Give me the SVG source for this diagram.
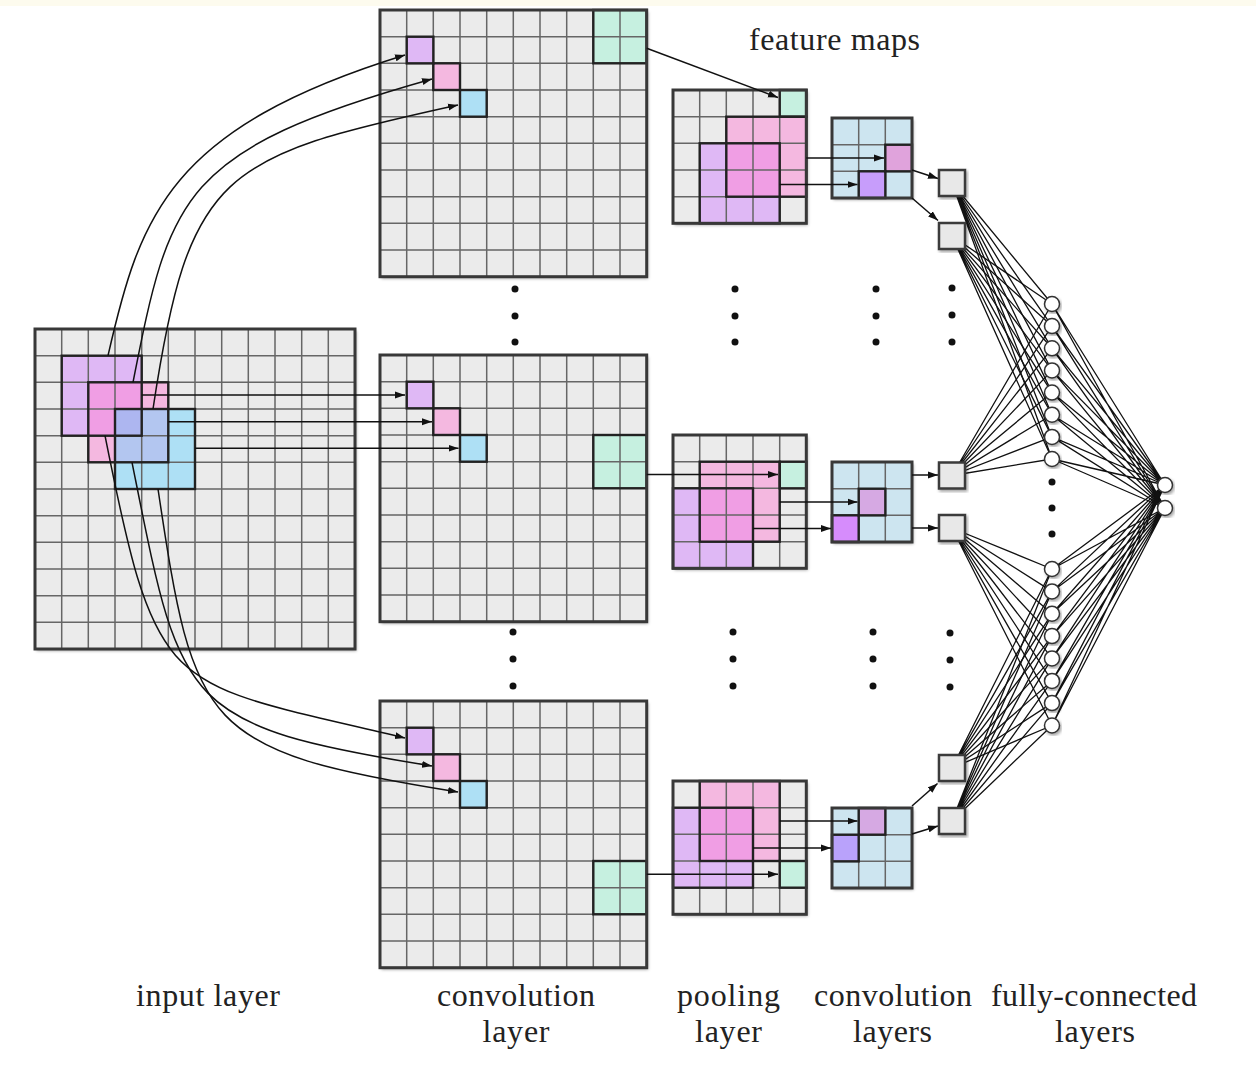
<svg xmlns="http://www.w3.org/2000/svg" xmlns:xlink="http://www.w3.org/1999/xlink" width="1256" height="1074" viewBox="0 0 1256 1074">
<style>
.bg{fill:#ebebeb;filter:url(#sh)}
.gl{fill:none;stroke:#666;stroke-width:1.5}
.ob{fill:none;stroke:#383838;stroke-width:3}
.hb{fill:none;stroke:#222;stroke-width:2.4}
.pu{fill:#dfb8f5}.pk{fill:#f4b8e0}.mg{fill:#f09ee4}.bl{fill:#aee0f5}.bp{fill:#b3c6f0}.bq{fill:#adb6f0}.tl{fill:#c6f0e0}.sc{fill:#cde5f0}
.ar{fill:none;stroke:#111;stroke-width:1.5;marker-end:url(#ah)}
.fc{fill:none;stroke:#111;stroke-width:1.3}
.sq{fill:#e8e8e8;stroke:#3a3a3a;stroke-width:2.5;filter:url(#sh)}
.nd{fill:#fff;stroke:#333;stroke-width:1.5;filter:url(#sh)}
.dot{fill:#111}
.lbl{font-family:"Liberation Serif","Times New Roman",serif;font-size:32px;fill:#222;text-anchor:middle}
</style>
<defs>
<filter id="sh" x="-10%" y="-10%" width="125%" height="125%"><feDropShadow dx="1.5" dy="2" stdDeviation="1.5" flood-color="#000" flood-opacity="0.35"/></filter>
<marker id="ah" markerUnits="userSpaceOnUse" markerWidth="11" markerHeight="8" refX="10" refY="4" orient="auto"><path d="M0,0.5 L10,4 L0,7.5 z" fill="#111"/></marker>
<path id="l10" class="gl" d="M26.7 0V266.7M53.3 0V266.7M80 0V266.7M106.7 0V266.7M133.3 0V266.7M160 0V266.7M186.7 0V266.7M213.3 0V266.7M240 0V266.7M0 26.7H266.7M0 53.3H266.7M0 80H266.7M0 106.7H266.7M0 133.3H266.7M0 160H266.7M0 186.7H266.7M0 213.3H266.7M0 240H266.7"/>
<path id="l12" class="gl" d="M26.7 0V320M53.3 0V320M80 0V320M106.7 0V320M133.3 0V320M160 0V320M186.7 0V320M213.3 0V320M240 0V320M266.7 0V320M293.3 0V320M0 26.7H320M0 53.3H320M0 80H320M0 106.7H320M0 133.3H320M0 160H320M0 186.7H320M0 213.3H320M0 240H320M0 266.7H320M0 293.3H320"/>
<path id="l5" class="gl" d="M26.7 0V133.3M53.3 0V133.3M80 0V133.3M106.7 0V133.3M0 26.7H133.3M0 53.3H133.3M0 80H133.3M0 106.7H133.3"/>
<path id="l3" class="gl" d="M26.7 0V80M53.3 0V80M0 26.7H80M0 53.3H80"/>
</defs>
<rect x="0" y="0" width="1256" height="1074" fill="#fff"/>
<rect x="0" y="0" width="1256" height="6" fill="#fdfbee"/>

<g id="input-layer">
<rect class="bg" x="35" y="329" width="320" height="320"/>
<rect class="pu" x="61.7" y="355.7" width="26.7" height="80"/><rect class="pu" x="88.3" y="355.7" width="53.3" height="26.7"/>
<rect class="mg" x="88.3" y="382.3" width="53.3" height="26.7"/><rect class="mg" x="88.3" y="409" width="26.7" height="26.7"/>
<rect class="pk" x="141.7" y="382.3" width="26.7" height="26.7"/><rect class="pk" x="88.3" y="435.7" width="26.7" height="26.7"/>
<rect class="bq" x="115" y="409" width="26.7" height="26.7"/>
<rect class="bp" x="141.7" y="409" width="26.7" height="53.3"/><rect class="bp" x="115" y="435.7" width="26.7" height="26.7"/>
<rect class="bl" x="168.3" y="409" width="26.7" height="53.3"/><rect class="bl" x="115" y="462.3" width="80" height="26.7"/>
<use xlink:href="#l12" x="35" y="329"/>
<rect class="hb" x="61.7" y="355.7" width="80" height="80"/>
<rect class="hb" x="88.3" y="382.3" width="80" height="80"/>
<rect class="hb" x="115" y="409" width="80" height="80"/>
<rect class="ob" x="35" y="329" width="320" height="320"/>
</g>

<g id="conv-top">
<rect class="bg" x="380" y="10" width="266.7" height="266.7"/>
<rect class="pu" x="406.7" y="36.7" width="26.7" height="26.7"/>
<rect class="pk" x="433.3" y="63.3" width="26.7" height="26.7"/>
<rect class="bl" x="460" y="90" width="26.7" height="26.7"/>
<rect class="tl" x="593.3" y="10" width="53.3" height="53.3"/>
<use xlink:href="#l10" x="380" y="10"/>
<rect class="hb" x="406.7" y="36.7" width="26.7" height="26.7"/>
<rect class="hb" x="433.3" y="63.3" width="26.7" height="26.7"/>
<rect class="hb" x="460" y="90" width="26.7" height="26.7"/>
<rect class="hb" x="593.3" y="10" width="53.3" height="53.3"/>
<rect class="ob" x="380" y="10" width="266.7" height="266.7"/>
</g>

<g id="conv-mid">
<rect class="bg" x="380" y="355" width="266.7" height="266.7"/>
<rect class="pu" x="406.7" y="381.7" width="26.7" height="26.7"/>
<rect class="pk" x="433.3" y="408.3" width="26.7" height="26.7"/>
<rect class="bl" x="460" y="435" width="26.7" height="26.7"/>
<rect class="tl" x="593.3" y="435" width="53.3" height="53.3"/>
<use xlink:href="#l10" x="380" y="355"/>
<rect class="hb" x="406.7" y="381.7" width="26.7" height="26.7"/>
<rect class="hb" x="433.3" y="408.3" width="26.7" height="26.7"/>
<rect class="hb" x="460" y="435" width="26.7" height="26.7"/>
<rect class="hb" x="593.3" y="435" width="53.3" height="53.3"/>
<rect class="ob" x="380" y="355" width="266.7" height="266.7"/>
</g>

<g id="conv-bot">
<rect class="bg" x="380" y="701" width="266.7" height="266.7"/>
<rect class="pu" x="406.7" y="727.7" width="26.7" height="26.7"/>
<rect class="pk" x="433.3" y="754.3" width="26.7" height="26.7"/>
<rect class="bl" x="460" y="781" width="26.7" height="26.7"/>
<rect class="tl" x="593.3" y="861" width="53.3" height="53.3"/>
<use xlink:href="#l10" x="380" y="701"/>
<rect class="hb" x="406.7" y="727.7" width="26.7" height="26.7"/>
<rect class="hb" x="433.3" y="754.3" width="26.7" height="26.7"/>
<rect class="hb" x="460" y="781" width="26.7" height="26.7"/>
<rect class="hb" x="593.3" y="861" width="53.3" height="53.3"/>
<rect class="ob" x="380" y="701" width="266.7" height="266.7"/>
</g>

<g id="pool-top">
<rect class="bg" x="673" y="90" width="133.3" height="133.3"/>
<rect class="tl" x="779.7" y="90" width="26.7" height="26.7"/>
<rect class="pk" x="726.3" y="116.7" width="80" height="80"/>
<rect class="pu" x="699.7" y="143.3" width="80" height="80"/>
<rect class="mg" x="726.3" y="143.3" width="53.3" height="53.3"/>
<use xlink:href="#l5" x="673" y="90"/>
<rect class="hb" x="779.7" y="90" width="26.7" height="26.7"/>
<rect class="hb" x="726.3" y="116.7" width="80" height="80"/>
<rect class="hb" x="699.7" y="143.3" width="80" height="80"/>
<rect class="ob" x="673" y="90" width="133.3" height="133.3"/>
</g>

<g id="pool-mid">
<rect class="bg" x="673" y="435" width="133.3" height="133.3"/>
<rect class="tl" x="779.7" y="461.7" width="26.7" height="26.7"/>
<rect class="pk" x="699.7" y="461.7" width="80" height="80"/>
<rect class="pu" x="673" y="488.3" width="80" height="80"/>
<rect class="mg" x="699.7" y="488.3" width="53.3" height="53.3"/>
<use xlink:href="#l5" x="673" y="435"/>
<rect class="hb" x="779.7" y="461.7" width="26.7" height="26.7"/>
<rect class="hb" x="699.7" y="461.7" width="80" height="80"/>
<rect class="hb" x="673" y="488.3" width="80" height="80"/>
<rect class="ob" x="673" y="435" width="133.3" height="133.3"/>
</g>

<g id="pool-bot">
<rect class="bg" x="673" y="781" width="133.3" height="133.3"/>
<rect class="tl" x="779.7" y="861" width="26.7" height="26.7"/>
<rect class="pk" x="699.7" y="781" width="80" height="80"/>
<rect class="pu" x="673" y="807.7" width="80" height="80"/>
<rect class="mg" x="699.7" y="807.7" width="53.3" height="53.3"/>
<use xlink:href="#l5" x="673" y="781"/>
<rect class="hb" x="779.7" y="861" width="26.7" height="26.7"/>
<rect class="hb" x="699.7" y="781" width="80" height="80"/>
<rect class="hb" x="673" y="807.7" width="80" height="80"/>
<rect class="ob" x="673" y="781" width="133.3" height="133.3"/>
</g>

<g id="conv2-top">
<rect class="bg" x="832" y="118" width="80" height="80" style="fill:#cde5f0"/>
<rect x="885.3" y="144.7" width="26.7" height="26.7" fill="#e0a3dc"/>
<rect x="858.7" y="171.3" width="26.7" height="26.7" fill="#c79dfb"/>
<use xlink:href="#l3" x="832" y="118"/>
<rect class="hb" x="885.3" y="144.7" width="26.7" height="26.7"/>
<rect class="hb" x="858.7" y="171.3" width="26.7" height="26.7"/>
<rect class="ob" x="832" y="118" width="80" height="80"/>
</g>

<g id="conv2-mid">
<rect class="bg" x="832" y="462" width="80" height="80" style="fill:#cde5f0"/>
<rect x="858.7" y="488.7" width="26.7" height="26.7" fill="#d6a9e3"/>
<rect x="832" y="515.3" width="26.7" height="26.7" fill="#d68cfc"/>
<use xlink:href="#l3" x="832" y="462"/>
<rect class="hb" x="858.7" y="488.7" width="26.7" height="26.7"/>
<rect class="hb" x="832" y="515.3" width="26.7" height="26.7"/>
<rect class="ob" x="832" y="462" width="80" height="80"/>
</g>

<g id="conv2-bot">
<rect class="bg" x="832" y="808" width="80" height="80" style="fill:#cde5f0"/>
<rect x="858.7" y="808" width="26.7" height="26.7" fill="#d6a9e3"/>
<rect x="832" y="834.7" width="26.7" height="26.7" fill="#b9a2fb"/>
<use xlink:href="#l3" x="832" y="808"/>
<rect class="hb" x="858.7" y="808" width="26.7" height="26.7"/>
<rect class="hb" x="832" y="834.7" width="26.7" height="26.7"/>
<rect class="ob" x="832" y="808" width="80" height="80"/>
</g>

<g id="ellipses">
<circle class="dot" cx="515" cy="289" r="3.5"/><circle class="dot" cx="515" cy="316" r="3.5"/><circle class="dot" cx="515" cy="342" r="3.5"/>
<circle class="dot" cx="735" cy="289" r="3.5"/><circle class="dot" cx="735" cy="316" r="3.5"/><circle class="dot" cx="735" cy="342" r="3.5"/>
<circle class="dot" cx="876" cy="289" r="3.5"/><circle class="dot" cx="876" cy="316" r="3.5"/><circle class="dot" cx="876" cy="342" r="3.5"/>
<circle class="dot" cx="952" cy="288" r="3.5"/><circle class="dot" cx="952" cy="315" r="3.5"/><circle class="dot" cx="952" cy="342" r="3.5"/>
<circle class="dot" cx="513" cy="632" r="3.5"/><circle class="dot" cx="513" cy="659" r="3.5"/><circle class="dot" cx="513" cy="686" r="3.5"/>
<circle class="dot" cx="733" cy="632" r="3.5"/><circle class="dot" cx="733" cy="659" r="3.5"/><circle class="dot" cx="733" cy="686" r="3.5"/>
<circle class="dot" cx="873" cy="632" r="3.5"/><circle class="dot" cx="873" cy="659" r="3.5"/><circle class="dot" cx="873" cy="686" r="3.5"/>
<circle class="dot" cx="950" cy="633" r="3.5"/><circle class="dot" cx="950" cy="660" r="3.5"/><circle class="dot" cx="950" cy="687" r="3.5"/>
<circle class="dot" cx="1052" cy="482" r="3.5"/><circle class="dot" cx="1052" cy="508" r="3.5"/><circle class="dot" cx="1052" cy="534" r="3.5"/>
</g>

<g id="connectors">
<path class="ar" d="M108 355.7C140 215 169 128 405 55"/>
<path class="ar" d="M133 382.3C170 195 180 150 432 79"/>
<path class="ar" d="M153 409C189 170 221 157 458 105"/>
<path class="ar" d="M105 435.7C158 702 165 680 405 738"/>
<path class="ar" d="M132 462.3C181 706 178 725 432 766"/>
<path class="ar" d="M158 489C194 729 201 751 458 792"/>
<path class="ar" d="M141.7 395H405"/>
<path class="ar" d="M168.3 421.7H432"/>
<path class="ar" d="M195 448.3H458.5"/>
<path class="ar" d="M646.7 48.3L778 97.5"/>
<path class="ar" d="M646.7 474.5H778"/>
<path class="ar" d="M646.7 874.3H778"/>
<path class="ar" d="M806.3 158H884"/>
<path class="ar" d="M779.7 184.5H857.5"/>
<path class="ar" d="M779.7 502H857.5"/>
<path class="ar" d="M753 528.5H831"/>
<path class="ar" d="M779.7 821H857.5"/>
<path class="ar" d="M753 848H831"/>
<path class="ar" d="M912 170L938 178.5"/>
<path class="ar" d="M912 198L938 220.5"/>
<path class="ar" d="M912 475H938"/>
<path class="ar" d="M912 528H938"/>
<path class="ar" d="M912 806L937.5 783.5"/>
<path class="ar" d="M912 834L938 826"/>
<path class="fc" d="M952 183L1052 304M952 183L1052 326.1M952 183L1052 348.3M952 183L1052 370.4M952 183L1052 392.6M952 183L1052 414.7M952 183L1052 436.9M952 183L1052 459"/>
<path class="fc" d="M952 236L1052 304M952 236L1052 326.1M952 236L1052 348.3M952 236L1052 370.4M952 236L1052 392.6M952 236L1052 414.7M952 236L1052 436.9M952 236L1052 459"/>
<path class="fc" d="M952 475.5L1052 304M952 475.5L1052 326.1M952 475.5L1052 348.3M952 475.5L1052 370.4M952 475.5L1052 392.6M952 475.5L1052 414.7M952 475.5L1052 436.9M952 475.5L1052 459"/>
<path class="fc" d="M952 528L1052 569M952 528L1052 591.4M952 528L1052 613.7M952 528L1052 636.1M952 528L1052 658.4M952 528L1052 680.9M952 528L1052 703.1M952 528L1052 725.5"/>
<path class="fc" d="M952 768L1052 569M952 768L1052 591.4M952 768L1052 613.7M952 768L1052 636.1M952 768L1052 658.4M952 768L1052 680.9M952 768L1052 703.1M952 768L1052 725.5"/>
<path class="fc" d="M952 821L1052 569M952 821L1052 591.4M952 821L1052 613.7M952 821L1052 636.1M952 821L1052 658.4M952 821L1052 680.9M952 821L1052 703.1M952 821L1052 725.5"/>
<path class="fc" d="M1052 304L1165 485M1052 326.1L1165 485M1052 348.3L1165 485M1052 370.4L1165 485M1052 392.6L1165 485M1052 414.7L1165 485M1052 436.9L1165 485M1052 459L1165 485M1052 304L1165 508M1052 326.1L1165 508M1052 348.3L1165 508M1052 370.4L1165 508M1052 392.6L1165 508M1052 414.7L1165 508M1052 436.9L1165 508M1052 459L1165 508"/>
<path class="fc" d="M1052 569L1165 485M1052 591.4L1165 485M1052 613.7L1165 485M1052 636.1L1165 485M1052 658.4L1165 485M1052 680.9L1165 485M1052 703.1L1165 485M1052 725.5L1165 485M1052 569L1165 508M1052 591.4L1165 508M1052 613.7L1165 508M1052 636.1L1165 508M1052 658.4L1165 508M1052 680.9L1165 508M1052 703.1L1165 508M1052 725.5L1165 508"/>
</g>

<g id="fc-square-1"><rect class="sq" x="939" y="170" width="26" height="26"/></g>
<g id="fc-square-2"><rect class="sq" x="939" y="223" width="26" height="26"/></g>
<g id="fc-square-3"><rect class="sq" x="939" y="462.5" width="26" height="26"/></g>
<g id="fc-square-4"><rect class="sq" x="939" y="515" width="26" height="26"/></g>
<g id="fc-square-5"><rect class="sq" x="939" y="755" width="26" height="26"/></g>
<g id="fc-square-6"><rect class="sq" x="939" y="808" width="26" height="26"/></g>

<g id="fc-hidden">
<circle class="nd" cx="1052" cy="304" r="7.5"/><circle class="nd" cx="1052" cy="326.1" r="7.5"/><circle class="nd" cx="1052" cy="348.3" r="7.5"/><circle class="nd" cx="1052" cy="370.4" r="7.5"/>
<circle class="nd" cx="1052" cy="392.6" r="7.5"/><circle class="nd" cx="1052" cy="414.7" r="7.5"/><circle class="nd" cx="1052" cy="436.9" r="7.5"/><circle class="nd" cx="1052" cy="459" r="7.5"/>
<circle class="nd" cx="1052" cy="569" r="7.5"/><circle class="nd" cx="1052" cy="591.4" r="7.5"/><circle class="nd" cx="1052" cy="613.7" r="7.5"/><circle class="nd" cx="1052" cy="636.1" r="7.5"/>
<circle class="nd" cx="1052" cy="658.4" r="7.5"/><circle class="nd" cx="1052" cy="680.9" r="7.5"/><circle class="nd" cx="1052" cy="703.1" r="7.5"/><circle class="nd" cx="1052" cy="725.5" r="7.5"/>
</g>
<g id="fc-output">
<circle class="nd" cx="1165" cy="485" r="7.5"/><circle class="nd" cx="1165" cy="508" r="7.5"/>
</g>

<g id="labels">
<text class="lbl" x="834.5" y="50" textLength="171">feature maps</text>
<text class="lbl" x="208" y="1006" textLength="144">input layer</text>
<text class="lbl" x="516" y="1006" textLength="158">convolution</text>
<text class="lbl" x="516" y="1042" textLength="67">layer</text>
<text class="lbl" x="728.5" y="1006" textLength="103">pooling</text>
<text class="lbl" x="728.5" y="1042" textLength="67">layer</text>
<text class="lbl" x="893" y="1006" textLength="158">convolution</text>
<text class="lbl" x="892.5" y="1042" textLength="79">layers</text>
<text class="lbl" x="1094" y="1006" textLength="206">fully-connected</text>
<text class="lbl" x="1095" y="1042" textLength="80">layers</text>
</g>
</svg>
